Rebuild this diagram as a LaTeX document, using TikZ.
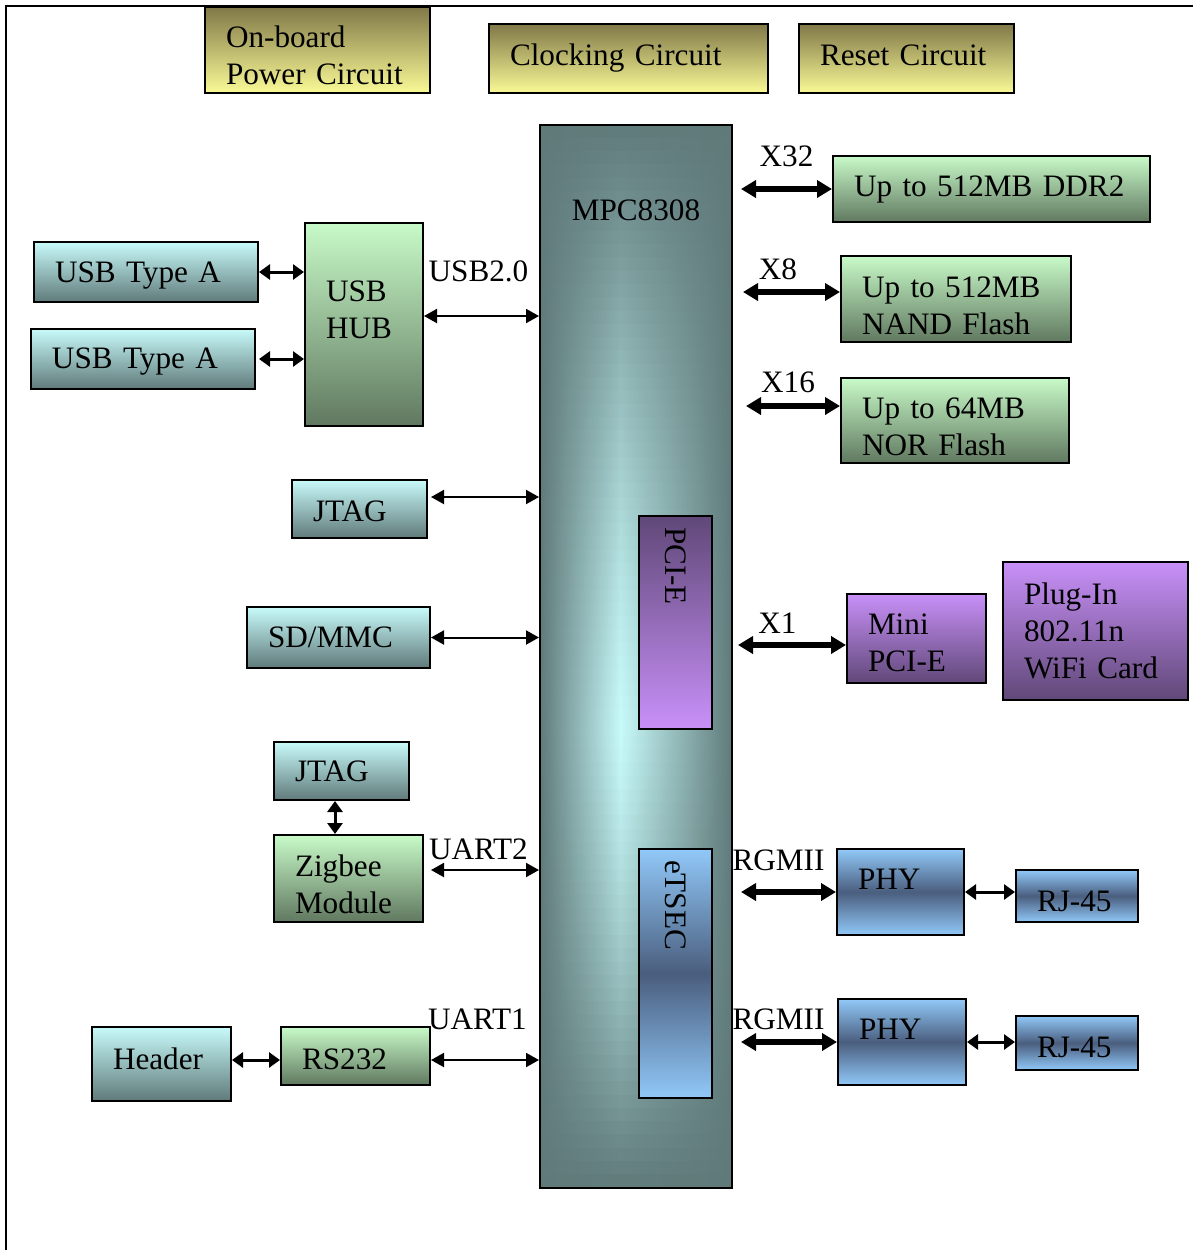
\documentclass[tikz,border=0pt]{standalone}
\usepackage{fontspec}
\setmainfont{Liberation Serif}
\usetikzlibrary{arrows.meta,calc,positioning}

\begin{document}
\begin{tikzpicture}[x=0.5pt, y=-0.5pt,
    font=\fontsize{15.6}{18.5}\selectfont,
    blk/.style={shape=rectangle, draw, line width=1pt, inner xsep=10.5pt, inner ysep=1pt, align=left},
    cyanbox/.style={blk, top color=cyanlight, bottom color=cyandark},
    greenbox/.style={blk, top color=greenlight, bottom color=greendark},
    yellowbox/.style={blk, top color=yellowdark, bottom color=yellowlight},
    purplebox/.style={blk, top color=purplelight, bottom color=purpledark},
    bluebox/.style={blk, top color=bluelight, bottom color=bluelight, middle color=bluedark},
    chip/.style={shape=rectangle, draw, line width=1pt},
    core/.style={shape=rectangle, draw, line width=1pt, rotate=-90, inner xsep=5.5pt, inner ysep=1pt, align=left},
    lbl/.style={inner sep=0pt},
    thinarrow/.style={{Triangle[length=6.5pt,width=7pt]}-{Triangle[length=6.5pt,width=7pt]}, line width=1pt},
    midarrow/.style={{Triangle[length=5.5pt,width=7.5pt]}-{Triangle[length=5.5pt,width=7.5pt]}, line width=1.5pt},
    busarrow/.style={{Triangle[length=7.5pt,width=8.5pt]}-{Triangle[length=7.5pt,width=8.5pt]}, line width=3pt}]
    \definecolor{chipdark}{RGB}{96,122,122}
    \definecolor{chiplight}{RGB}{200,250,250}
    \definecolor{cyanlight}{RGB}{200,250,250}
    \definecolor{cyandark}{RGB}{96,122,122}
    \definecolor{greenlight}{RGB}{200,250,200}
    \definecolor{greendark}{RGB}{96,120,96}
    \definecolor{yellowlight}{RGB}{250,250,150}
    \definecolor{yellowdark}{RGB}{128,120,72}
    \definecolor{purplelight}{RGB}{200,144,248}
    \definecolor{purpledark}{RGB}{96,72,120}
    \definecolor{bluelight}{RGB}{145,200,248}
    \definecolor{bluedark}{RGB}{74,94,126}
    \useasboundingbox (0,0) rectangle (1193,1250);
    \draw[line width=1pt] (6,1250) -- (6,6) -- (1193,6);
    % top row
    \node[yellowbox, text width=91.5pt, minimum height=43pt, text height=15.8pt] (power) at (317.5,50) {On-board\\Power Circuit};
    \node[yellowbox, text width=118.5pt, minimum height=34.5pt] (clock) at (628.5,58.5) {Clocking Circuit};
    \node[yellowbox, text width=86.5pt, minimum height=34.5pt, text depth=3pt] (reset) at (906.5,58.5) {Reset Circuit};
    % processor body, lighter towards the middle
    \foreach \i in {0,...,79}{
      \pgfmathsetmacro\ytop{125+\i*13.2875}
      \pgfmathsetmacro\ybot{125+(\i+1)*13.2875+0.6}
      \pgfmathsetmacro\frac{(\i+0.5)/80}
      \pgfmathsetmacro\ramp{\frac<0.57 ? \frac/0.57 : (1-\frac)/0.43}
      \pgfmathsetmacro\lit{100*(1-(1-\ramp)^1.3)}
      \colorlet{chipmid}{chiplight!\lit!chipdark}
      \shade[left color=chipdark, right color=chipmid] (540,\ytop) rectangle (620.6,\ybot);
      \shade[left color=chipmid, right color=chipdark] (620,\ytop) rectangle (732,\ybot);
    }
    \node[chip, minimum width=96pt, minimum height=531.5pt] (mpc) at (636,656.5) {};
    \node[lbl] (mpcname) at (636,210) {MPC8308};
    \node[core, top color=purpledark, bottom color=purplelight, text width=95.5pt, minimum height=36.5pt] (pcie) at (675.5,622.5) {PCI-E};
    \node[core, top color=bluelight, bottom color=bluelight, middle color=bluedark, text width=113.5pt, minimum height=36.5pt] (etsec) at (675.5,973.5) {eTSEC};
    % left side
    \node[cyanbox, text width=91pt, minimum height=30pt, text height=13.5pt] (usba1) at (146,272) {USB Type A};
    \node[cyanbox, text width=91pt, minimum height=30pt, text height=12.5pt] (usba2) at (143,359) {USB Type A};
    \node[greenbox, text width=38pt, minimum height=101.5pt, text depth=33.5pt] (hub) at (364,324.5) {USB\\HUB};
    \node[cyanbox, text width=46.5pt, minimum height=29pt, text height=12.5pt] (jtag1) at (359.5,509) {JTAG};
    \node[cyanbox, text width=70.5pt, minimum height=30.5pt] (sdmmc) at (338.5,637.5) {SD/MMC};
    \node[cyanbox, text width=46.5pt, minimum height=29pt]  (jtag2)  at (341.5,771)  {JTAG};
    \node[greenbox, text width=53.5pt, minimum height=43.5pt, text height=16.8pt] (zigbee) at (348.5,878.5) {Zigbee\\Module};
    \node[cyanbox, text width=48.5pt, minimum height=37pt, text depth=5pt] (header) at (161.5,1064) {Header};
    \node[greenbox, text width=53.5pt, minimum height=29pt, text height=13.7pt] (rs232) at (355.5,1056) {RS232};
    % right side
    \node[greenbox, text width=137.5pt, minimum height=33pt] (ddr) at (991.5,189) {Up to 512MB DDR2};
    \node[greenbox, text width=94pt, minimum height=43pt, text height=16.7pt] (nand) at (956,299) {Up to 512MB\\NAND Flash};
    \node[greenbox, text width=93pt, minimum height=42.5pt, text height=16.7pt] (nor) at (955,420.5) {Up to 64MB\\NOR Flash};
    \node[purplebox, text width=48.5pt, minimum height=44.5pt, text height=14.8pt] (mini) at (916.5,638.5) {Mini\\PCI-E};
    \node[purplebox, text width=71.5pt, minimum height=69pt] (plugin) at (1095.5,631) {Plug-In\\802.11n\\WiFi Card};
    \node[bluebox, text width=42.5pt, minimum height=43pt, text depth=12.5pt] (phy1) at (900.5,892) {PHY};
    \node[bluebox, text width=40pt, minimum height=26pt, text height=15.7pt] (rj1) at (1077,896) {RJ-45};
    \node[bluebox, text width=43pt, minimum height=43pt, text depth=12.5pt] (phy2) at (902,1042) {PHY};
    \node[bluebox, text width=40pt, minimum height=27pt, text height=14.7pt] (rj2) at (1077,1043) {RJ-45};
    % links on the left
    \draw[midarrow] (usba1.east) -- (usba1.east -| hub.west);
    \draw[midarrow] ([xshift=1.5pt]usba2.east) -- (usba2.east -| hub.west);
    \draw[thinarrow] ([yshift=4.25pt]hub.east) -- ([yshift=4.25pt]hub.east -| mpc.west)
      node[lbl, midway, above=16.5pt, xshift=-1.5pt] {USB2.0};
    \draw[thinarrow] ([xshift=1.5pt,yshift=6pt]jtag1.east) -- ([yshift=6pt]jtag1.east -| mpc.west);
    \draw[thinarrow] (sdmmc.east) -- (sdmmc.east -| mpc.west);
    \draw[midarrow] ([xshift=-3.25pt]jtag2.south) -- ([xshift=-3.25pt]jtag2.south |- zigbee.north);
    \draw[thinarrow] ([xshift=3.5pt,yshift=4.25pt]zigbee.east) -- ([yshift=4.25pt]zigbee.east -| mpc.west)
      node[lbl, midway, above=4.5pt, xshift=-3.25pt] {UART2};
    \draw[midarrow] ([yshift=2pt]header.east) -- ([yshift=2pt]header.east -| rs232.west);
    \draw[thinarrow] ([yshift=-2pt]rs232.east) -- ([yshift=-2pt]rs232.east -| mpc.west)
      node[lbl, midway, above=14.5pt, xshift=-3.75pt] {UART1};
    % links on the right
    \draw[busarrow] ($(mpc.east |- ddr.west)+(4pt,0)$) -- (ddr.west)
      node[lbl, midway, above=9.5pt] {X32};
    \draw[busarrow] ($(mpc.east |- nand.west)+(5pt,3.5pt)$) -- ([yshift=3.5pt]nand.west)
      node[lbl, midway, above=4.5pt, xshift=-6.75pt] {X8};
    \draw[busarrow] ($(mpc.east |- nor.west)+(6.5pt,7.25pt)$) -- ([yshift=7.25pt]nor.west)
      node[lbl, midway, above=5pt, xshift=-2.5pt] {X16};
    \draw[busarrow] ($(mpc.east |- mini.west)+(2.5pt,-3.25pt)$) -- ([yshift=-3.25pt]mini.west)
      node[lbl, midway, above=4.5pt, xshift=-7.25pt] {X1};
    \draw[busarrow] ($(mpc.east |- phy1.west)+(4pt,0)$) -- (phy1.west)
      node[lbl, midway, above=9pt, xshift=-5pt] {RGMII};
    \draw[midarrow] (phy1.east) -- (phy1.east -| rj1.west);
    \draw[busarrow] ($(mpc.east |- phy2.west)+(4pt,0)$) -- (phy2.west)
      node[lbl, midway, above=4.5pt, xshift=-5.25pt] {RGMII};
    \draw[midarrow] (phy2.east) -- (phy2.east -| rj2.west);
\end{tikzpicture}
\end{document}
